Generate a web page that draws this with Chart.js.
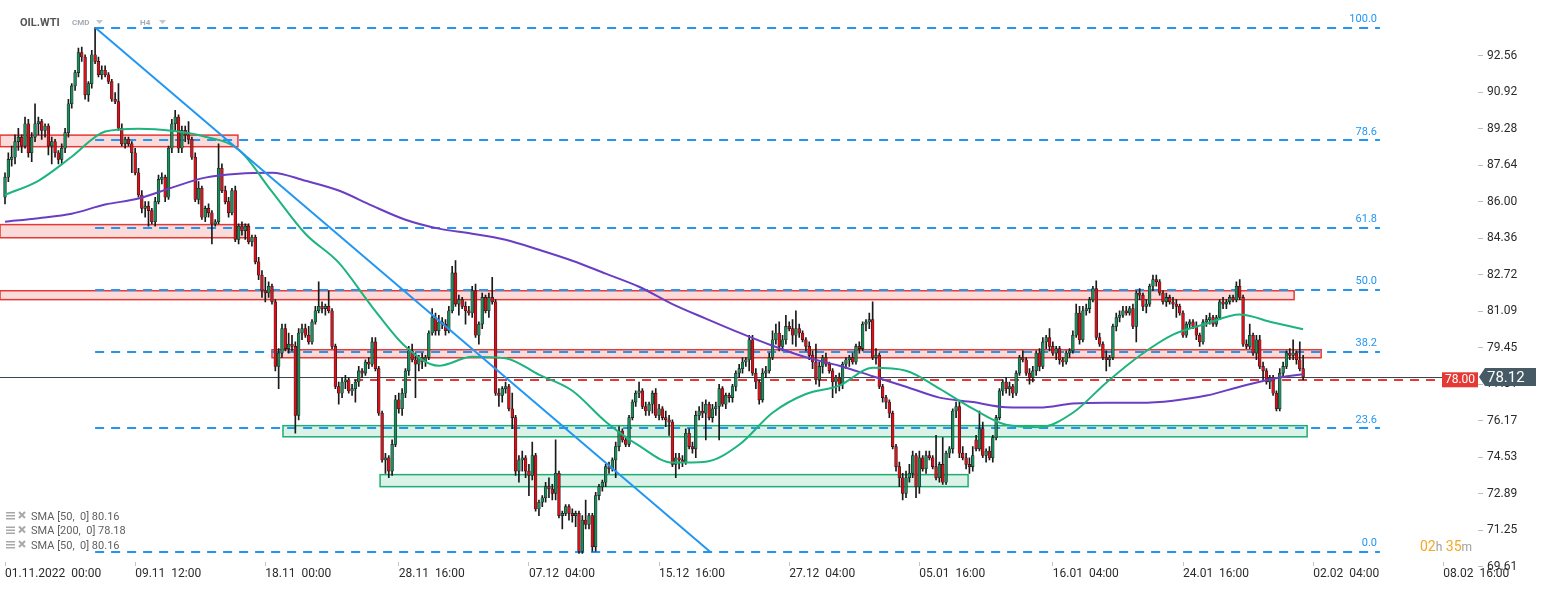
<!DOCTYPE html>
<html>
<head>
<meta charset="utf-8">
<script src="https://cdn.jsdelivr.net/npm/chart.js@4.4.1/dist/chart.umd.min.js"></script>
<style>
  html, body { margin: 0; padding: 0; background: #fff; }
  #wrap { width: 1546px; height: 590px; position: relative; }
</style>
</head>
<body>
<div id="wrap"><canvas id="c"></canvas></div>
<script>
// H4 candles, OIL.WTI, 01.11.2022 -> 31.01.2023
const opens = [
  86.2,87.1,87.9,88.0,88.7,88.9,88.5,89.5,88.2,88.9,89.5,89.6,89.2,89.4,88.5,88.7,88.2,87.9,88.4,89.1,90.4,91.2,91.8,92.7,92.5,90.8,91.3,92.6,92.3,91.7,91.9,91.7,91.4,90.6,90.5,89.3,88.6,88.8,88.6,
  88.2,87.3,86.3,85.7,85.8,85.6,85.1,86.0,87.0,87.1,86.2,88.4,89.5,89.8,88.4,89.2,89.0,88.8,88.0,86.1,86.6,85.3,85.7,85.5,85.0,85.1,87.5,86.5,86.0,85.5,86.5,84.3,84.9,84.7,84.9,84.2,84.4,83.3,82.7,
  82.0,81.9,82.2,81.5,78.6,79.2,80.3,79.4,79.6,79.5,76.4,80.1,80.3,80.0,79.7,80.6,81.1,81.3,81.2,81.3,81.1,79.5,77.7,77.4,77.9,78.0,77.5,77.6,77.9,78.4,78.3,78.8,78.7,79.7,78.5,76.5,74.4,74.5,73.9,
  75.1,77.1,76.7,77.4,78.4,79.3,78.9,78.7,79.0,78.8,79.0,80.1,80.8,80.2,80.6,80.5,80.2,81.1,82.8,81.4,81.6,81.3,81.1,81.0,82.0,80.0,80.5,81.7,81.1,81.7,81.5,77.4,77.3,77.6,77.7,76.7,76.3,73.9,74.4,
  74.5,73.9,73.7,74.6,72.2,72.5,72.7,73.2,73.1,72.9,73.8,71.9,72.0,72.3,72.0,71.9,72.0,70.3,71.7,71.5,71.9,70.5,72.8,73.2,73.4,74.1,74.0,74.4,75.0,75.7,75.3,75.1,76.3,77.0,77.4,77.5,76.8,76.6,76.9,
  77.4,76.4,76.7,76.3,76.2,76.1,74.2,74.5,74.4,74.3,75.6,75.0,74.9,76.4,76.6,76.5,76.9,76.3,76.7,76.8,77.6,76.9,77.3,77.2,77.7,78.3,78.5,78.8,78.9,79.8,78.3,77.9,77.1,78.3,78.4,79.0,79.8,80.1,79.5,
  79.8,80.4,80.3,80.0,80.3,80.1,79.8,79.5,79.1,78.8,78.0,78.6,79.0,78.7,78.4,77.9,78.1,77.8,78.7,78.9,79.0,78.8,79.5,79.4,80.5,80.6,80.7,79.0,79.1,77.7,77.2,77.0,76.5,75.0,74.1,73.6,72.9,73.6,73.8,
  74.6,73.2,74.5,74.0,74.6,74.5,74.1,73.6,74.2,73.4,74.7,74.9,76.6,76.8,74.7,74.5,74.2,74.1,75.3,74.9,75.8,74.6,74.8,74.5,75.4,76.3,77.5,77.9,77.6,77.7,77.4,78.3,79.0,78.9,78.3,78.1,78.4,79.2,78.6,
  79.7,79.9,79.5,79.2,79.4,78.9,78.8,79.2,79.3,80.0,81.0,79.8,81.1,81.2,81.6,82.1,79.9,79.6,79.0,78.9,79.0,80.4,80.8,80.9,81.1,81.0,81.2,80.4,81.9,81.8,81.3,81.4,82.2,82.5,82.4,81.9,81.5,81.7,81.5,
  81.4,81.3,81.0,80.0,80.5,80.6,80.4,80.0,79.7,80.6,80.7,80.8,80.5,80.8,81.5,81.4,81.5,81.7,81.6,82.2,81.7,79.6,79.5,80.0,79.2,79.8,78.6,78.4,77.9,78.1,77.4,76.7,78.3,78.6,79.2,79.1,79.2,78.9,78.5
];
const highs = [
  87.3,88.2,88.5,89.0,89.3,89.0,89.8,89.7,89.1,90.4,89.8,89.7,89.5,89.5,88.9,88.8,88.3,88.6,89.3,90.6,91.3,91.9,92.9,92.95,92.6,91.4,92.8,93.82,92.5,92.1,92.1,91.8,91.5,90.9,91.3,89.5,88.9,88.9,88.7,
  88.4,87.5,86.5,86.0,86.0,85.7,86.2,87.2,87.3,87.2,88.5,89.7,90.1,89.9,89.4,89.4,89.6,88.9,88.2,86.9,86.7,85.8,85.9,85.6,85.2,88.6,87.7,86.7,86.2,86.6,86.7,85.0,85.1,85.0,85.0,84.5,84.5,83.5,82.9,
  82.6,82.4,82.3,81.6,79.4,80.5,80.5,80.1,80.0,79.7,80.3,80.5,80.5,80.4,80.7,81.3,82.4,81.5,81.4,82.0,81.2,79.6,77.9,78.1,78.2,78.1,77.8,78.0,78.6,78.5,78.9,79.0,79.9,79.9,78.6,76.6,74.7,74.6,75.3,
  77.3,77.4,77.6,78.5,79.5,79.6,79.2,79.1,79.2,79.1,80.2,81.2,81.0,80.9,80.8,80.7,81.3,83.1,83.35,81.8,81.7,81.5,81.3,82.2,82.3,80.6,81.9,81.8,81.9,82.6,81.6,77.6,77.7,77.9,77.8,77.4,76.4,74.6,74.8,
  74.6,74.2,75.2,74.7,72.6,72.8,73.4,73.6,73.3,75.3,73.9,72.1,72.4,72.4,72.2,72.1,72.1,71.9,72.6,72.0,72.0,72.95,73.3,73.5,74.2,74.3,74.5,75.2,75.9,75.8,75.4,76.4,77.1,77.5,77.9,77.6,77.0,77.0,77.5,
  77.6,76.9,76.8,76.6,76.4,76.2,74.7,74.7,74.6,75.8,75.8,75.2,76.6,76.8,77.0,77.1,77.0,76.9,77.0,77.8,77.7,77.4,77.4,77.8,78.4,78.7,79.0,79.0,80.0,80.0,78.5,78.0,78.5,78.6,79.2,80.2,80.5,80.6,80.0,
  80.9,80.6,80.7,81.1,80.5,80.2,79.9,79.7,79.3,79.6,78.8,79.1,79.2,78.8,78.5,78.2,78.3,78.8,79.0,79.1,79.2,79.6,79.7,80.6,80.7,81.0,81.5,79.4,79.2,77.8,77.3,77.1,76.6,75.1,74.3,73.8,73.9,74.2,74.8,
  74.7,74.8,74.6,74.8,74.8,74.6,75.5,74.3,75.4,74.8,75.0,76.7,77.0,77.0,75.0,74.7,74.5,75.0,75.5,76.6,76.1,74.9,75.0,75.5,76.4,77.6,78.0,78.1,77.9,77.8,78.4,79.1,79.3,79.0,78.5,78.6,79.3,79.4,79.9,
  80.0,80.3,79.7,79.5,79.5,79.0,79.3,79.4,80.2,81.4,81.3,81.3,81.4,81.7,82.2,82.45,80.1,79.7,79.3,79.1,80.5,81.0,81.1,81.3,81.3,81.3,81.4,82.0,82.1,81.9,81.6,82.3,82.7,82.7,82.5,82.0,81.9,81.8,81.7,
  81.6,81.4,81.1,80.6,80.7,80.7,80.6,80.1,80.7,80.9,81.0,80.9,80.9,81.6,81.7,81.6,81.8,81.8,82.4,82.5,81.8,79.8,80.5,80.1,80.0,80.0,78.8,78.5,78.2,78.2,77.5,78.5,78.8,79.3,79.4,79.8,79.3,79.7,79.1
];
const lows = [
  85.9,86.9,87.6,87.7,88.3,88.2,88.4,88.0,87.8,88.7,89.0,88.8,88.9,88.1,87.7,88.0,87.7,87.7,88.2,88.9,90.2,91.0,91.6,92.3,90.6,90.5,91.1,92.2,91.6,91.5,91.6,91.3,90.5,90.4,89.2,88.5,88.4,88.5,87.3,
  87.2,86.2,85.5,85.3,84.9,85.0,84.9,85.9,86.8,86.0,86.1,88.2,89.2,88.2,88.2,88.7,88.6,87.9,86.0,85.9,85.2,85.1,85.3,84.1,84.9,85.0,86.4,85.9,85.3,85.4,84.2,84.1,84.5,84.3,84.1,84.0,83.2,82.5,81.7,
  81.5,81.7,81.4,78.4,77.6,79.0,79.3,79.2,79.3,75.6,76.2,79.8,79.9,79.6,79.6,80.5,81.0,81.0,80.9,81.0,79.4,77.6,76.9,77.2,77.6,77.4,77.3,77.0,77.7,78.1,78.2,78.5,78.6,78.4,76.4,74.3,73.8,73.6,73.7,
  75.0,76.5,76.4,77.2,78.2,78.8,77.2,78.4,78.5,78.6,78.9,80.0,80.0,80.0,80.3,80.0,80.1,81.0,81.3,80.9,81.2,80.5,80.9,80.8,79.9,79.6,80.3,81.0,80.8,81.4,77.3,76.8,77.0,77.4,76.6,75.8,73.7,73.4,73.9,
  73.6,72.8,73.5,72.1,71.9,72.3,72.5,72.7,72.6,72.6,71.8,71.3,71.9,71.7,71.6,71.4,70.2,70.2,71.3,71.3,70.3,70.3,72.6,73.0,73.2,73.8,73.9,73.6,74.8,75.2,75.0,75.0,76.2,76.8,77.2,76.7,76.4,76.4,76.5,
  76.3,76.2,76.2,75.9,75.5,74.1,73.6,74.0,74.1,74.2,74.9,74.7,74.5,76.2,76.3,75.3,76.2,76.1,76.4,75.3,76.8,76.7,77.0,77.0,77.5,78.1,78.3,78.6,78.4,78.2,77.6,76.9,77.0,78.1,78.3,78.9,79.6,79.3,79.3,
  79.6,80.2,79.6,79.5,79.9,79.7,79.3,78.9,78.5,77.8,77.7,78.3,78.6,78.3,77.2,77.4,77.5,77.6,78.5,78.6,78.7,78.7,79.2,79.3,80.2,80.3,78.9,78.7,77.6,77.0,76.7,76.3,74.9,73.9,73.2,72.6,72.7,73.4,73.6,
  72.7,72.9,73.9,73.8,74.4,74.0,73.5,73.4,73.3,73.3,74.5,74.7,76.3,74.5,74.4,74.0,73.8,73.9,74.8,74.8,74.5,74.3,74.4,74.3,75.3,76.2,77.3,77.4,77.3,77.2,77.3,78.2,78.8,78.2,77.8,77.9,78.2,78.4,78.5,
  79.4,79.3,79.1,78.9,78.7,78.6,78.7,79.0,79.2,79.9,79.6,79.7,80.9,81.0,81.5,79.8,79.5,78.9,78.4,78.6,78.9,80.2,80.6,80.8,80.9,80.9,80.3,79.7,81.6,81.1,81.0,81.3,82.0,82.2,81.8,81.4,81.3,81.4,81.2,
  80.8,80.9,79.9,79.9,80.3,80.3,79.8,79.5,79.6,80.4,80.5,80.4,80.4,80.7,81.2,81.2,81.4,81.5,81.5,81.6,79.5,79.4,79.4,79.1,78.9,78.5,78.0,77.8,77.6,77.3,76.6,76.6,78.1,78.5,78.9,78.9,78.7,78.4,78.0
];
const closes = [
  87.1,87.9,88.0,88.7,88.9,88.5,89.5,88.2,88.9,89.5,89.6,89.2,89.4,88.5,88.7,88.2,87.9,88.4,89.1,90.4,91.2,91.8,92.7,92.5,90.8,91.3,92.6,92.3,91.7,91.9,91.7,91.4,90.6,90.5,89.3,88.6,88.8,88.6,88.2,
  87.3,86.3,85.7,85.8,85.6,85.1,86.0,87.0,87.1,86.2,88.4,89.5,89.8,88.4,89.2,89.0,88.8,88.0,86.1,86.6,85.3,85.7,85.5,85.0,85.1,87.5,86.5,86.0,85.5,86.5,84.3,84.9,84.7,84.9,84.2,84.4,83.3,82.7,82.0,
  81.9,82.2,81.5,78.6,79.2,80.3,79.4,79.6,79.5,76.4,80.1,80.3,80.0,79.7,80.6,81.1,81.3,81.2,81.3,81.1,79.5,77.7,77.4,77.9,78.0,77.5,77.6,77.9,78.4,78.3,78.8,78.7,79.7,78.5,76.5,74.4,74.5,73.9,75.1,
  77.1,76.7,77.4,78.4,79.3,78.9,78.7,79.0,78.8,79.0,80.1,80.8,80.2,80.6,80.5,80.2,81.1,82.8,81.4,81.6,81.3,81.1,81.0,82.0,80.0,80.5,81.7,81.1,81.7,81.5,77.4,77.3,77.6,77.7,76.7,76.3,73.9,74.4,74.5,
  73.9,73.7,74.6,72.2,72.5,72.7,73.2,73.1,72.9,73.8,71.9,72.0,72.3,72.0,71.9,72.0,70.3,71.7,71.5,71.9,70.5,72.8,73.2,73.4,74.1,74.0,74.4,75.0,75.7,75.3,75.1,76.3,77.0,77.4,77.5,76.8,76.6,76.9,77.4,
  76.4,76.7,76.3,76.2,76.1,74.2,74.5,74.4,74.3,75.6,75.0,74.9,76.4,76.6,76.5,76.9,76.3,76.7,76.8,77.6,76.9,77.3,77.2,77.7,78.3,78.5,78.8,78.9,79.8,78.3,77.9,77.1,78.3,78.4,79.0,79.8,80.1,79.5,79.8,
  80.4,80.3,80.0,80.3,80.1,79.8,79.5,79.1,78.8,78.0,78.6,79.0,78.7,78.4,77.9,78.1,77.8,78.7,78.9,79.0,78.8,79.5,79.4,80.5,80.6,80.7,79.0,79.1,77.7,77.2,77.0,76.5,75.0,74.1,73.6,72.9,73.6,73.8,74.6,
  73.2,74.5,74.0,74.6,74.5,74.1,73.6,74.2,73.4,74.7,74.9,76.6,76.8,74.7,74.5,74.2,74.1,74.6,74.9,75.8,74.6,74.8,74.5,75.4,76.3,77.5,77.9,77.6,77.7,77.4,78.3,79.0,78.9,78.3,78.1,78.4,79.2,78.6,79.7,
  79.9,79.5,79.2,79.4,78.9,78.8,79.2,79.3,80.0,81.0,79.8,81.1,81.2,81.6,82.1,79.9,79.6,79.0,78.9,79.0,80.4,80.8,80.9,81.1,81.0,81.2,80.4,81.9,81.8,81.3,81.4,82.2,82.5,82.4,81.9,81.5,81.7,81.5,81.4,
  81.3,81.0,80.0,80.5,80.6,80.4,80.0,79.7,80.6,80.7,80.8,80.5,80.8,81.5,81.4,81.5,81.7,81.6,82.2,81.7,79.6,79.5,80.0,79.2,79.8,78.6,78.4,77.9,78.1,77.4,76.7,78.3,78.6,79.2,79.1,79.2,78.9,78.5,78.12
];

const smaIdx = [0,10,20,30,40,50,60,70,80,90,100,110,120,130,140,150,160,170,180,190,200,210,220,230,240,250,260,270,280,290,300,310,320,330,340,350,360,370,380,389];
const sma50 = [86.31,86.94,88.02,89.15,89.28,89.19,88.92,88.34,86.45,84.56,83.26,81.28,79.49,78.63,79.04,78.97,78.23,77.51,76.12,75.04,74.28,74.32,75.08,76.52,77.36,77.74,78.54,78.41,77.6,76.7,75.98,75.87,76.52,77.87,79.08,80.03,80.52,80.93,80.57,80.27];
const sma200 = [85.1,85.26,85.46,85.87,86.14,86.63,87.08,87.26,87.3,86.94,86.5,85.82,85.19,84.79,84.56,84.29,83.84,83.35,82.77,82.18,81.4,80.75,80.12,79.53,79.01,78.63,78.16,77.69,77.2,77.0,76.77,76.75,76.93,76.97,76.97,77.06,77.29,77.69,78.05,78.25];

// x axis labels
const tickIdx = [0,39,78,118,157,196,235,274,314,353,392,431];
const tickLabels = ['01.11.2022  00:00','09.11  12:00','18.11  00:00','28.11  16:00','07.12  04:00','15.12  16:00','27.12  04:00','05.01  16:00','16.01  04:00','24.01  16:00','02.02  04:00','08.02  16:00'];
// y axis labels
const yTicks = [69.61,71.25,72.89,74.53,76.17,77.81,79.45,81.09,82.72,84.36,86.00,87.64,89.28,90.92,92.56];

// fibonacci retracement
const fibNames = ['0.0','23.6','38.2','50.0','61.8','78.6','100.0'];
const fibPrices = [70.28,75.84,79.27,82.05,84.83,88.78,93.82];
const fibFrom = 27, fibTo = 412;

// trend line
const trendIdx = [27, 211.3];
const trendPrice = [93.82, 70.28];

// support / resistance zones
const zoneFrom = [-1.5,-1.5,-1.5,80,83.3,112.4];
const zoneTo   = [69.8,72.8,386.3,394.4,390.2,288.6];
const zoneLow  = [88.47,84.38,81.6,78.99,75.44,73.2];
const zoneHigh = [88.99,84.97,82.0,79.35,75.94,73.74];
const zoneKind = ['r','r','r','r','g','g'];

const alertLevel = 78.00, alertFrom = 104.6;
const lastPrice = 78.12;

const smaLegend = ['SMA [50,  0] 80.16', 'SMA [200,  0] 78.18', 'SMA [50,  0] 80.16'];

Chart.defaults.font.family = 'Roboto, "Liberation Sans", sans-serif';

const blue = '#2196f3';

const overlay = {
  id: 'overlay',
  beforeDatasetsDraw(chart) {
    const { ctx, scales: { x, y }, chartArea } = chart;
    ctx.save();
    // zones
    for (let k = 0; k < zoneFrom.length; k++) {
      const x0 = x.getPixelForValue(zoneFrom[k]), x1 = x.getPixelForValue(zoneTo[k]);
      const y0 = y.getPixelForValue(zoneHigh[k]), y1 = y.getPixelForValue(zoneLow[k]);
      const red = zoneKind[k] === 'r';
      ctx.fillStyle = red ? 'rgba(236,72,72,0.2)' : 'rgba(40,180,120,0.17)';
      ctx.fillRect(x0, y0, x1 - x0, y1 - y0);
      ctx.strokeStyle = red ? '#e53935' : '#1fae72';
      ctx.lineWidth = 1.5;
      ctx.strokeRect(x0, y0, x1 - x0, y1 - y0);
    }
    // fib levels
    ctx.strokeStyle = blue;
    ctx.lineWidth = 2;
    ctx.setLineDash([9, 7]);
    const fx0 = x.getPixelForValue(fibFrom), fx1 = x.getPixelForValue(fibTo);
    fibPrices.forEach(p => {
      const py = Math.round(y.getPixelForValue(p));
      ctx.beginPath(); ctx.moveTo(fx0, py); ctx.lineTo(fx1, py); ctx.stroke();
    });
    // last price line
    ctx.setLineDash([]);
    ctx.strokeStyle = '#37474f';
    ctx.lineWidth = 1;
    const ly = Math.round(y.getPixelForValue(lastPrice)) + 0.5;
    ctx.beginPath(); ctx.moveTo(chartArea.left, ly); ctx.lineTo(chartArea.right, ly); ctx.stroke();
    // alert level
    ctx.strokeStyle = '#e53935';
    ctx.lineWidth = 2;
    ctx.setLineDash([9, 7]);
    const ay = Math.round(y.getPixelForValue(alertLevel));
    ctx.beginPath(); ctx.moveTo(x.getPixelForValue(alertFrom), ay); ctx.lineTo(chartArea.right, ay); ctx.stroke();
    ctx.restore();
  },
  afterDraw(chart) {
    const { ctx, scales: { y } } = chart;
    ctx.save();
    // fib labels
    ctx.font = '11px Roboto, sans-serif';
    ctx.fillStyle = blue;
    ctx.textAlign = 'right';
    ctx.textBaseline = 'middle';
    fibPrices.forEach((p, k) => ctx.fillText(fibNames[k], 1377, y.getPixelForValue(p) - 8));

    // alert tag
    const ay = y.getPixelForValue(alertLevel);
    ctx.fillStyle = '#e53935';
    ctx.fillRect(1442, ay - 7.5, 36, 15);
    ctx.fillStyle = '#fff';
    ctx.textAlign = 'center';
    ctx.font = '12px Roboto, sans-serif';
    ctx.fillText(alertLevel.toFixed(2), 1460, ay + 0.5);

    // last price tag
    const ly = y.getPixelForValue(lastPrice);
    ctx.fillStyle = '#455a64';
    ctx.beginPath();
    ctx.moveTo(1479, ly);
    ctx.lineTo(1485, ly - 9);
    ctx.lineTo(1536, ly - 9);
    ctx.lineTo(1536, ly + 9);
    ctx.lineTo(1485, ly + 9);
    ctx.closePath();
    ctx.fill();
    ctx.fillStyle = '#fff';
    ctx.textAlign = 'left';
    ctx.font = '15px Roboto, sans-serif';
    ctx.fillText(lastPrice.toFixed(2), 1487, ly + 1);

    // header
    ctx.textBaseline = 'alphabetic';
    ctx.font = 'bold 11px Roboto, sans-serif';
    ctx.fillStyle = '#555';
    ctx.fillText('OIL.WTI', 20, 26);
    ctx.font = 'bold 8px Roboto, sans-serif';
    ctx.fillStyle = '#a3abb3';
    ctx.fillText('CMD', 72, 25);
    ctx.fillText('H4', 140, 25);
    ctx.fillStyle = '#c2c7cc';
    [[96, 20], [159, 20]].forEach(([tx, ty]) => {
      ctx.beginPath(); ctx.moveTo(tx, ty); ctx.lineTo(tx + 7, ty); ctx.lineTo(tx + 3.5, ty + 4); ctx.closePath(); ctx.fill();
    });

    // indicator legend
    smaLegend.forEach((t, k) => {
      const ty = 517 + k * 14.5;
      ctx.fillStyle = '#a8a8a8';
      ctx.fillRect(6, ty - 5, 9, 1.5);
      ctx.fillRect(6, ty - 2, 9, 1.5);
      ctx.fillRect(6, ty + 1, 9, 1.5);
      ctx.strokeStyle = '#a8a8a8';
      ctx.lineWidth = 2;
      ctx.beginPath();
      ctx.moveTo(19, ty - 5); ctx.lineTo(25, ty + 1);
      ctx.moveTo(25, ty - 5); ctx.lineTo(19, ty + 1);
      ctx.stroke();
      ctx.fillStyle = '#5f5f5f';
      ctx.font = '11px Roboto, sans-serif';
      ctx.textBaseline = 'middle';
      ctx.fillText(t, 31, ty);
    });

    // candle countdown
    ctx.textBaseline = 'alphabetic';
    let cx = 1420;
    [['02', '#f5a623', 14], ['h', '#9e9e9e', 12], [' 35', '#f5a623', 14], ['m', '#9e9e9e', 12]].forEach(([t, c, s]) => {
      ctx.font = s + 'px Roboto, sans-serif';
      ctx.fillStyle = c;
      ctx.fillText(t, cx, 551);
      cx += ctx.measureText(t).width;
    });
    ctx.restore();
  }
};

const bodyColors = closes.map((c, i) => c >= opens[i] ? '#1c8c5c' : '#d8121a');

new Chart(document.getElementById('c'), {
  type: 'bar',
  data: {
    datasets: [
      {
        type: 'line', order: 0,
        data: trendIdx.map((v, k) => ({ x: v, y: trendPrice[k] })),
        borderColor: blue, borderWidth: 2, pointRadius: 0, tension: 0
      },
      {
        type: 'line', order: 1,
        data: smaIdx.map((v, k) => ({ x: v, y: sma50[k] })),
        borderColor: '#1db47e', borderWidth: 2, pointRadius: 0, cubicInterpolationMode: 'monotone'
      },
      {
        type: 'line', order: 1,
        data: smaIdx.map((v, k) => ({ x: v, y: sma200[k] })),
        borderColor: '#6a3ec4', borderWidth: 2, pointRadius: 0, cubicInterpolationMode: 'monotone'
      },
      {
        order: 2, grouped: false,
        data: closes.map((c, i) => ({ x: i, y: [opens[i], c] })),
        backgroundColor: bodyColors,
        borderColor: '#1a1a1a', borderWidth: 0.6, borderSkipped: false,
        barThickness: 2.8, minBarLength: 1
      },
      {
        order: 3, grouped: false,
        data: closes.map((c, i) => ({ x: i, y: [lows[i], highs[i]] })),
        backgroundColor: '#1a1a1a', borderWidth: 0,
        barThickness: 1
      }
    ]
  },
  options: {
    responsive: true,
    maintainAspectRatio: false,
    animation: false,
    devicePixelRatio: 1,
    layout: { padding: 0 },
    plugins: { legend: { display: false }, tooltip: { enabled: false } },
    scales: {
      x: {
        type: 'linear', min: -1.5, max: 441.4, offset: false,
        grid: { drawOnChartArea: false, drawTicks: true, tickLength: 4, color: '#c4c4c4', offset: false },
        border: { display: false },
        afterBuildTicks: s => { s.ticks = tickIdx.map(v => ({ value: v })); },
        afterFit: s => { s.height = 28; },
        ticks: {
          autoSkip: false, maxRotation: 0, minRotation: 0, align: 'start', padding: 1,
          color: '#2b2b2b', font: { size: 12 },
          callback: v => tickLabels[tickIdx.indexOf(v)]
        }
      },
      y: {
        position: 'right', min: 69.816, max: 94.556, beginAtZero: false,
        grid: { drawOnChartArea: false, drawTicks: true, tickLength: 5, color: '#bdbdbd' },
        border: { display: false },
        afterBuildTicks: s => { s.ticks = yTicks.map(v => ({ value: v })); },
        afterFit: s => { s.width = 68; },
        ticks: { padding: 4, color: '#2b2b2b', font: { size: 12 }, callback: v => v.toFixed(2) }
      }
    }
  },
  plugins: [overlay]
});
</script>
</body>
</html>
